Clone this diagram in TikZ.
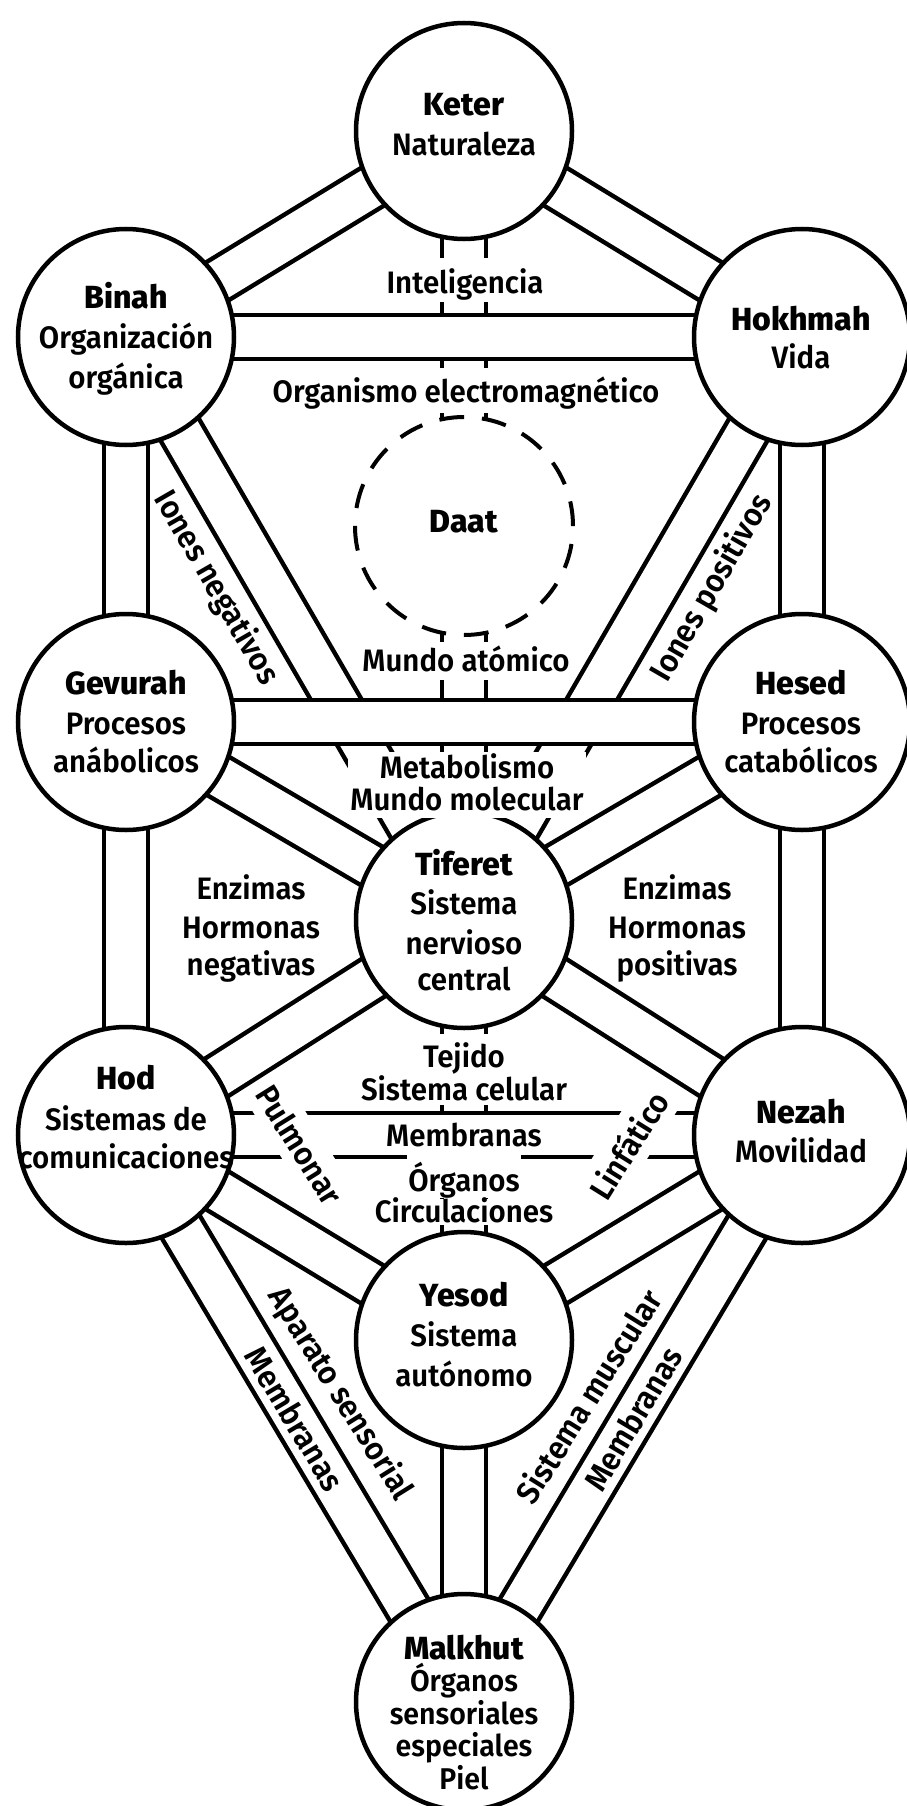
\documentclass[tikz,border=0pt]{standalone}
\usepackage{fontspec}
\setmainfont{PT Sans}[BoldFeatures={FakeStretch=1.1}]
\IfFontExistsTF{Fira Sans SemiBold}
  {\newfontfamily\dsf{Fira Sans SemiBold}[FakeStretch=0.95]}
  {\IfFontExistsTF{Lato Semibold}
    {\newfontfamily\dsf{Lato Semibold}[FakeStretch=0.95]}
    {\newfontfamily\dsf{PT Sans}}}
\IfFontExistsTF{Fira Sans ExtraBold}
  {\newfontfamily\nmf{Fira Sans ExtraBold}\newcommand\nsz{\fontsize{32}{40}\selectfont}}
  {\IfFontExistsTF{Lato Heavy}
    {\newfontfamily\nmf{Lato Heavy}\newcommand\nsz{\fontsize{32}{40}\selectfont}}
    {\newcommand\nmf{\bfseries}\newcommand\nsz{\fontsize{33}{40}\selectfont}}}
\newcommand\fsz{\fontsize{31}{38}\selectfont}
\newcommand\msz{\fontsize{30}{33}\selectfont}
\newcommand\rsz{\fontsize{32}{38}\selectfont}
\newcommand\twol[5]{\vtop{\baselineskip=#1\relax\lineskiplimit=-\maxdimen\lineskip=0pt\halign{\hfil##\hfil\cr\rule{0pt}{#2}#4\cr#5\rule[-#3]{0pt}{#3}\cr}}}
\pgfdeclarelayer{bands}
\pgfsetlayers{bands,main}
\begin{document}
\begin{tikzpicture}[x=1pt,y=-1pt,
  band/.style={line width=4.5pt,double=white,double distance=39.5pt},
  sef/.style={circle,draw,line width=4.5pt,fill=white,minimum size=216pt,inner sep=0pt},
  daatc/.style={circle,draw,line width=4pt,fill=white,minimum size=218pt,inner sep=0pt,dash pattern=on 24.8pt off 18pt},
  nm/.style={font=\nsz\nmf,anchor=base,inner sep=0pt},
  ds/.style={font=\fsz\dsf,anchor=base,inner sep=0pt},
  dm/.style={font=\msz\dsf,anchor=base,inner sep=0pt},
  mask/.style={fill=white},
  rl/.style={font=\rsz\dsf,inner sep=2pt}]
\useasboundingbox (0,0) rectangle (906,1806);
% sephirot
\node[daatc] (daat) at (464,526) {};
\node[sef] (keter) at (464,131) {};
\node[sef] (binah) at (126,337) {};
\node[sef] (hokhmah) at (802,337) {};
\node[sef] (gevurah) at (126,722) {};
\node[sef] (hesed) at (802,722) {};
\node[sef] (tiferet) at (464,920) {};
\node[sef] (hod) at (126,1135) {};
\node[sef] (nezah) at (802,1135) {};
\node[sef] (yesod) at (464,1340) {};
\node[sef] (malkhut) at (464,1702) {};
% paths
\begin{pgfonlayer}{bands}
\fill[white] (0,0) rectangle (906,1806);
\draw[band] (keter.center) -- (tiferet.center);
\draw[band] (binah.center) -- (tiferet.center);
\draw[band] (hokhmah.center) -- (tiferet.center);
\draw[band] (tiferet.center) -- (yesod.center);
\draw[band] (keter.center) -- (binah.center);
\draw[band] (keter.center) -- (hokhmah.center);
\draw[band] (binah.center) -- (gevurah.center);
\draw[band] (hokhmah.center) -- (hesed.center);
\draw[band] (gevurah.center) -- (tiferet.center);
\draw[band] (hesed.center) -- (tiferet.center);
\draw[band] (gevurah.center) -- (hod.center);
\draw[band] (hesed.center) -- (nezah.center);
\draw[band] (tiferet.center) -- (hod.center);
\draw[band] (tiferet.center) -- (nezah.center);
\draw[band] (hod.center) -- (yesod.center);
\draw[band] (nezah.center) -- (yesod.center);
\draw[band] (hod.center) -- (malkhut.center);
\draw[band] (nezah.center) -- (malkhut.center);
\draw[band] (yesod.center) -- (malkhut.center);
\draw[band] (binah.center) -- (hokhmah.center);
\draw[band] (gevurah.center) -- (hesed.center);
\draw[band] (hod.center) -- (nezah.center);
\end{pgfonlayer}
% sephirot texts
\node[nm] (tketer) at (464,116) {Keter};
\node[ds] (tketer2) at (464,156) {Naturaleza};
\node[nm] (tbinah) at (126,308) {Binah};
\node[ds] (tbinah2) at (126,348) {Organización};
\node[ds] (tbinah3) at (126,388) {orgánica};
\node[nm] (thokh) at (801,330) {Hokhmah};
\node[ds] (thokh2) at (801,368) {Vida};
\node[nm] (tdaat) at (464,532) {Daat};
\node[nm] (tgev) at (126,694) {Gevurah};
\node[ds] (tgev2) at (126,734) {Procesos};
\node[ds] (tgev3) at (126,772) {anábolicos};
\node[nm] (thes) at (801,694) {Hesed};
\node[ds] (thes2) at (801,734) {Procesos};
\node[ds] (thes3) at (801,772) {catabólicos};
\node[nm] (ttif) at (464,875) {Tiferet};
\node[ds] (ttif2) at (464,914) {Sistema};
\node[ds] (ttif3) at (464,954) {nervioso};
\node[ds] (ttif4) at (464,990) {central};
\node[nm] (thod) at (126,1089) {Hod};
\node[ds] (thod2) at (126,1130) {Sistemas de};
\node[ds] (thod3) at (126,1168) {comunicaciones};
\node[nm] (tnez) at (801,1123) {Nezah};
\node[ds] (tnez2) at (801,1162) {Movilidad};
\node[nm] (tyes) at (464,1306) {Yesod};
\node[ds] (tyes2) at (464,1346) {Sistema};
\node[ds] (tyes3) at (464,1386) {autónomo};
\node[nm] (tmal) at (464,1659) {Malkhut};
\node[dm] (tmal2) at (464,1691) {Órganos};
\node[dm] (tmal3) at (464,1724) {sensoriales};
\node[dm] (tmal4) at (464,1756) {especiales};
\node[dm] (tmal5) at (464,1789) {Piel};
% path labels
\node[ds,mask,text height=35pt,text depth=9pt,inner xsep=3pt] (lint) at (465,293) {Inteligencia};
\node[ds,mask,text height=34pt,text depth=11pt,inner xsep=3pt] (lorg) at (466,402) {Organismo electromagnético};
\node[ds,mask,text height=29pt,text depth=9pt,inner xsep=2pt] (lmat) at (466,671) {Mundo atómico};
\node[ds,mask,inner xsep=2pt] (lmet) at (467,778) {\twol{32pt}{26pt}{8pt}{Metabolismo}{Mundo molecular}};
\node[ds] (lenz1) at (251,899) {Enzimas};
\node[ds] (lenz2) at (251,938) {Hormonas};
\node[ds] (lenz3) at (251,975) {negativas};
\node[ds] (renz1) at (677,899) {Enzimas};
\node[ds] (renz2) at (677,938) {Hormonas};
\node[ds] (renz3) at (677,975) {positivas};
\node[ds,mask,inner xsep=2pt] (ltej) at (464,1067) {\twol{33pt}{33pt}{5pt}{Tejido}{Sistema celular}};
\path (hod.center) -- node[font=\fsz\dsf,inner sep=1pt] (lmemc) {Membranas} (nezah.center);
\node[ds,mask,text height=37pt,text depth=7pt,inner xsep=1pt] (lorgan) at (464,1191) {Órganos};
\node[ds,mask,text height=23pt,text depth=3pt,inner xsep=2pt] (lcirc) at (464,1222) {Circulaciones};
\node[rl,rotate=-60] (lion) at (216,588) {Iones negativos};
\node[rl,rotate=60] (lipos) at (712,588) {Iones positivos};
\node[rl,mask,rotate=-58,inner ysep=10pt] (lpul) at (300,1145) {Pulmonar};
\node[rl,mask,rotate=58,inner ysep=10pt] (llin) at (628,1145) {Linfático};
\node[rl,rotate=-58] (lapa) at (340,1394) {Aparato sensorial};
\path (hod.center) -- node[rl,sloped] (lmem1) {Membranas} (malkhut.center);
\node[rl,rotate=58] (lmus) at (588,1396) {Sistema muscular};
\path (malkhut.center) -- node[rl,sloped] (lmem2) {Membranas} (nezah.center);
\end{tikzpicture}
\end{document}
